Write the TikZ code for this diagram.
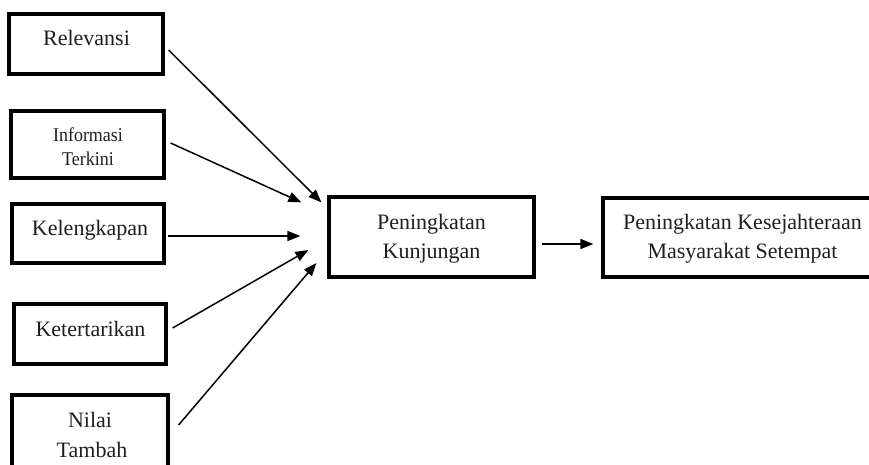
\documentclass[tikz,border=0pt]{standalone}
\usepackage{fontspec}
\setmainfont{Liberation Serif}
\newfontfamily\condserif[FakeStretch=0.92]{Liberation Serif}
\usetikzlibrary{arrows.meta}
\begin{document}
\begin{tikzpicture}[x=1pt,y=-1pt,
  box/.style={draw=black,line width=3.2pt,rectangle,inner sep=0pt},
  lbl/.style={anchor=base,inner sep=0pt,text=black!88,font=\fontsize{22}{26}\selectfont},
  lblsm/.style={anchor=base,inner sep=0pt,text=black!88,font=\condserif\fontsize{19.5}{22}\selectfont},
  arr/.style={line width=1.5pt,-{Triangle[length=13pt,width=10pt]}}]
\useasboundingbox (0,0) rectangle (869,464);
\clip (0,0) rectangle (869,464);
% boxes
\node[box,minimum width=154pt,minimum height=60pt] (rel) at (86,44) {};
\node[box,minimum width=153pt,minimum height=67pt] (inf) at (87.5,144.5) {};
\node[box,minimum width=152pt,minimum height=59pt] (kel) at (88,233.5) {};
\node[box,minimum width=152pt,minimum height=60pt] (ket) at (90,334) {};
\node[box,minimum width=156pt,minimum height=76pt] (nil) at (90,433) {};
\node[box,minimum width=205pt,minimum height=80pt] (kun) at (431.5,237) {};
\node[box,minimum width=279pt,minimum height=79pt] (kes) at (742.5,237.5) {};
% labels
\node[lbl] (trel) at (86.5,45.5) {Relevansi};
\node[lblsm] (tinf1) at (88,141.5) {Informasi};
\node[lblsm] (tinf2) at (88,165) {Terkini};
\node[lbl] (tkel) at (90,235) {Kelengkapan};
\node[lbl] (tket) at (90.5,336) {Ketertarikan};
\node[lbl] (tnil1) at (90,427) {Nilai};
\node[lbl] (tnil2) at (92,457) {Tambah};
\node[lbl] (tkun1) at (431.5,229) {Peningkatan};
\node[lbl] (tkun2) at (431.5,258) {Kunjungan};
\node[lbl] (tkes1) at (742.5,229) {Peningkatan Kesejahteraan};
\node[lbl] (tkes2) at (742.5,258) {Masyarakat Setempat};
% connectors
\draw[arr] ([xshift=4pt,yshift=-6pt]rel.east) -- ([xshift=-6pt,yshift=-7pt]kun.north west);
\draw[arr] ([xshift=5pt,yshift=1.5pt]inf.east) -- ([xshift=-26pt,yshift=-7pt]kun.north west);
\draw[arr] ([xshift=2pt,yshift=-2.5pt]kel.east) -- ([xshift=-27pt,yshift=1pt]kun.west);
\draw[arr] ([xshift=5pt,yshift=6pt]ket.east) -- ([xshift=-19pt,yshift=-13pt]kun.west);
\draw[arr] ([xshift=9pt,yshift=8pt]nil.east) -- ([xshift=-11pt,yshift=-26pt]kun.west);
\draw[arr] ([xshift=6pt,yshift=-7pt]kun.east) -- ([xshift=-8pt,yshift=-6.5pt]kes.west);
\end{tikzpicture}
\end{document}
